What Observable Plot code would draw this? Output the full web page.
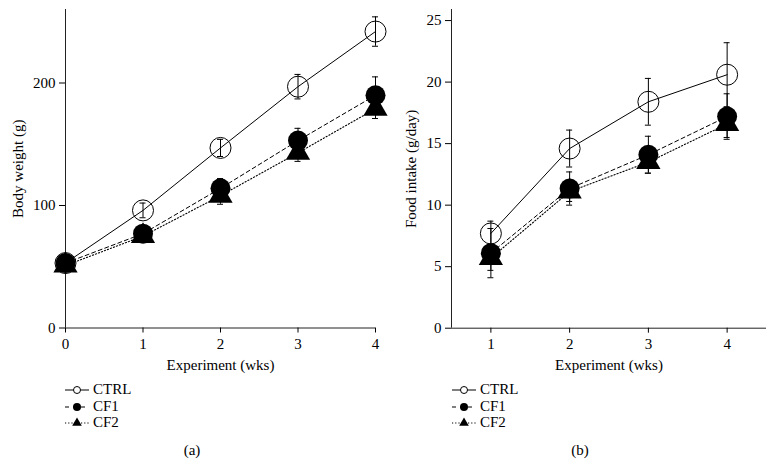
<!DOCTYPE html>
<html>
<head>
<meta charset="utf-8">
<script src="https://cdn.jsdelivr.net/npm/d3@7"></script>
<script src="https://cdn.jsdelivr.net/npm/@observablehq/plot@0.6"></script>
<style>
  html, body { margin: 0; padding: 0; background: #fff; }
  #wrap { position: relative; width: 775px; height: 463px; font-family: "Liberation Serif", "DejaVu Serif", serif; color: #000; }
  .panel { position: absolute; top: 0; }
  .legend { position: absolute; font-size: 15px; }
  .legend .row { position: absolute; left: 0; height: 16px; white-space: nowrap; }
  .legend svg { position: absolute; left: 0; top: 0; overflow: visible; }
  .legend span { position: absolute; left: 28px; top: -1px; line-height: 16px; }
  .cap { position: absolute; font-size: 15px; transform: translate(-50%, -50%); }
</style>
</head>
<body>
<div id="wrap"></div>
<script>
// ---- data ----
const series = ["CTRL", "CF1", "CF2"];

// (a) Body weight
const weeksA = [0, 1, 2, 3, 4];
const ctrlA = [53, 96, 147, 197, 242];
const ctrlAErr = [2, 6, 7, 10, 12];
const cf1A = [53, 77, 114, 153, 190];
const cf1AErr = [2, 5, 8, 10, 15];
const cf2A = [51, 75, 108, 143, 179];
const cf2AErr = [2, 4, 7, 7, 8];
const xDomainA = [0, 4];
const yDomainA = [0, 260];
const yTicksA = [0, 100, 200];
const xTicksA = [0, 1, 2, 3, 4];

// (b) Food intake
const weeksB = [1, 2, 3, 4];
const ctrlB = [7.7, 14.6, 18.4, 20.6];
const ctrlBErr = [1.0, 1.5, 1.9, 2.6];
const cf1B = [6.1, 11.35, 14.1, 17.2];
const cf1BErr = [2.0, 1.35, 1.5, 1.85];
const cf2B = [5.7, 11.1, 13.5, 16.6];
const cf2BErr = [1.0, 0.8, 0.9, 1.1];
const xDomainB = [0.5, 4.5];
const yDomainB = [0, 25.9];
const yTicksB = [0, 5, 10, 15, 20, 25];
const xTicksB = [1, 2, 3, 4];

const dashes = {CTRL: null, CF1: "4,3", CF2: "1.2,2"};

function rows(weeks, vals, errs, s) {
  return weeks.map((w, i) => ({series: s, x: w, y: vals[i], err: errs[i]}));
}

function panel(opts) {
  const {ctrl, cf1, cf2, xDomain, yDomain, yTicks, xTicks, width, height,
         marginLeft, marginRight, marginTop, marginBottom, ylabel, ylabelOffset} = opts;
  const all = [...ctrl, ...cf1, ...cf2];
  return Plot.plot({
    width, height, marginLeft, marginRight, marginTop, marginBottom,
    style: {fontFamily: "'Liberation Serif', 'DejaVu Serif', serif", fontSize: "15px", background: "white", overflow: "visible"},
    x: {domain: xDomain},
    y: {domain: yDomain},
    marks: [
      Plot.ruleX([xDomain[0]], {y1: yDomain[0], y2: yDomain[1], stroke: "#222"}),
      Plot.ruleY([0], {x1: xDomain[0], x2: xDomain[1], stroke: "#222"}),
      Plot.axisY({ticks: yTicks, tickSize: 6, tickPadding: 4, label: ylabel, labelAnchor: "center", labelArrow: false, labelOffset: ylabelOffset, tickFormat: d => String(d)}),
      Plot.axisX({ticks: xTicks, tickSize: 5, tickPadding: 5, label: "Experiment (wks)", labelAnchor: "center", labelArrow: false, labelOffset: 42, tickFormat: d => String(d)}),
      Plot.line(ctrl, {x: "x", y: "y", stroke: "black", strokeWidth: 1}),
      Plot.line(cf1, {x: "x", y: "y", stroke: "black", strokeWidth: 1, strokeDasharray: dashes.CF1}),
      Plot.line(cf2, {x: "x", y: "y", stroke: "black", strokeWidth: 1.1, strokeDasharray: dashes.CF2}),
      Plot.ruleX(all, {x: "x", y1: d => d.y - d.err, y2: d => d.y + d.err, stroke: "black", strokeWidth: 1}),
      Plot.ruleY(all, {y: d => d.y + d.err, x1: "x", x2: "x", insetLeft: -3, insetRight: -3, stroke: "black", strokeWidth: 1}),
      Plot.ruleY(all, {y: d => d.y - d.err, x1: "x", x2: "x", insetLeft: -3, insetRight: -3, stroke: "black", strokeWidth: 1}),
      Plot.dot(cf2, {x: "x", y: "y", symbol: "triangle", r: 9, fill: "black", stroke: "none"}),
      Plot.dot(cf1, {x: "x", y: "y", r: 10, fill: "black", stroke: "none"}),
      Plot.dot(ctrl, {x: "x", y: "y", r: 10.5, fill: "none", stroke: "black", strokeWidth: 1})
    ]
  });
}

const wrap = document.getElementById("wrap");

const plotA = panel({
  ctrl: rows(weeksA, ctrlA, ctrlAErr, "CTRL"),
  cf1: rows(weeksA, cf1A, cf1AErr, "CF1"),
  cf2: rows(weeksA, cf2A, cf2AErr, "CF2"),
  xDomain: xDomainA, yDomain: yDomainA, yTicks: yTicksA, xTicks: xTicksA,
  width: 390, height: 375, marginLeft: 65, marginRight: 15, marginTop: 9, marginBottom: 47.5,
  ylabel: "Body weight (g)", ylabelOffset: 53
});
plotA.classList.add("panel");
plotA.style.left = "0px";
wrap.appendChild(plotA);

const plotB = panel({
  ctrl: rows(weeksB, ctrlB, ctrlBErr, "CTRL"),
  cf1: rows(weeksB, cf1B, cf1BErr, "CF1"),
  cf2: rows(weeksB, cf2B, cf2BErr, "CF2"),
  xDomain: xDomainB, yDomain: yDomainB, yTicks: yTicksB, xTicks: xTicksB,
  width: 385, height: 375, marginLeft: 61, marginRight: 9, marginTop: 9, marginBottom: 47.3,
  ylabel: "Food intake (g/day)", ylabelOffset: 46
});
plotB.classList.add("panel");
plotB.style.left = "390px";
wrap.appendChild(plotB);

// ---- legends ----
function legend(left) {
  const lg = d3.select(wrap).append("div").attr("class", "legend")
    .style("left", left + "px").style("top", "382px");
  series.forEach((s, i) => {
    const row = lg.append("div").attr("class", "row").style("top", (i * 16.5) + "px");
    const svg = row.append("svg").attr("width", 25).attr("height", 16);
    const line = svg.append("line").attr("x1", 0).attr("x2", 24).attr("y1", 8).attr("y2", 8)
      .attr("stroke", "black").attr("stroke-width", 1);
    if (dashes[s]) line.attr("stroke-dasharray", s === "CF1" ? "4,4" : "1.2,2");
    if (s === "CTRL") svg.append("circle").attr("cx", 12).attr("cy", 8).attr("r", 3.5).attr("fill", "white").attr("stroke", "black");
    else if (s === "CF1") svg.append("circle").attr("cx", 12).attr("cy", 8).attr("r", 4).attr("fill", "black");
    else svg.append("path").attr("d", d3.symbol(d3.symbolTriangle, 40)()).attr("transform", "translate(12,8)").attr("fill", "black");
    row.append("span").text(s);
  });
}
legend(65);
legend(452);

d3.select(wrap).append("div").attr("class", "cap").style("left", "192px").style("top", "450px").text("(a)");
d3.select(wrap).append("div").attr("class", "cap").style("left", "580px").style("top", "450px").text("(b)");
</script>
</body>
</html>
